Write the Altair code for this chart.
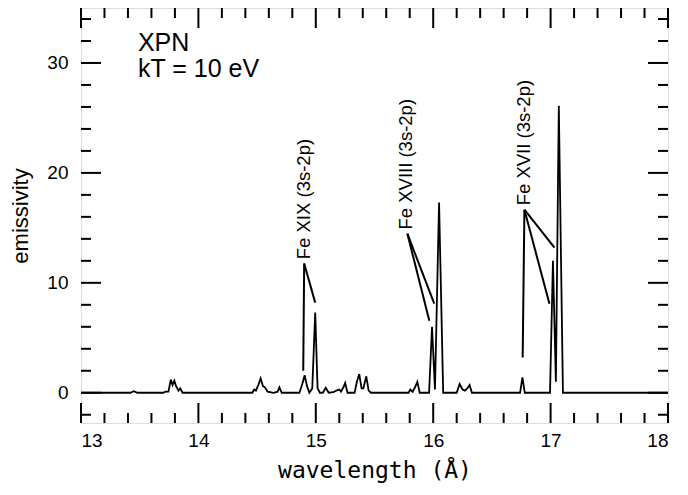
import altair as alt
import pandas as pd

# ---- spectrum ----
wavelength = [13.00, 13.42, 13.45, 13.48, 13.70, 13.72, 13.745, 13.765, 13.78, 13.795,
              13.81, 13.83, 13.845, 13.865, 14.46, 14.475, 14.49, 14.51, 14.53, 14.55,
              14.565, 14.59, 14.64, 14.675, 14.69, 14.71, 14.86, 14.885, 14.905, 14.925,
              14.945, 14.97, 14.995, 15.015, 15.035, 15.06, 15.085, 15.11, 15.15, 15.175,
              15.20, 15.215, 15.235, 15.25, 15.27, 15.33, 15.35, 15.37, 15.39, 15.405,
              15.43, 15.45, 15.47, 15.79, 15.805, 15.825, 15.845, 15.865, 15.885, 15.965,
              15.99, 16.015, 16.05, 16.085, 16.20, 16.225, 16.25, 16.27, 16.29, 16.31,
              16.33, 16.74, 16.76, 16.78, 16.995, 17.02, 17.045, 17.07, 17.105, 18.00]
emissivity = [0, 0, 0.15, 0, 0, 0.1, 0.1, 1.2, 0.7, 1.1,
              0.6, 0.2, 0.4, 0, 0, 0.3, 0.2, 0.7, 1.3, 0.6,
              0.5, 0.1, 0, 0.1, 0.5, 0, 0, 0.8, 1.6, 0.6,
              0, 0.4, 7.3, 0.4, 0, 0, 0.45, 0, 0.05, 0.2,
              0.3, 0.1, 0.5, 0.9, 0, 0, 1.0, 1.7, 0.4, 0.4,
              1.5, 0.2, 0, 0, 0.3, 0.1, 0.5, 1.0, 0, 0,
              6.0, 0.3, 17.3, 0, 0, 0.8, 0.3, 0.2, 0.4, 0.7,
              0, 0, 1.4, 0, 0, 12.0, 1.0, 26.1, 0, 0]

# ---- annotation leader lines ----
lead_x1 = [14.901, 14.901, 15.78, 15.78, 16.777, 16.777, 16.777]
lead_y1 = [11.75, 11.75, 14.47, 14.47, 16.65, 16.65, 16.65]
lead_x2 = [14.893, 14.995, 15.967, 16.009, 16.762, 16.99, 17.033]
lead_y2 = [2.0, 8.2, 6.56, 8.1, 3.2, 8.1, 13.2]

# ---- annotation labels ----
label_text = ["Fe XIX (3s-2p)", "Fe XVIII (3s-2p)", "Fe XVII (3s-2p)"]
label_x = [14.901, 15.765, 16.777]
label_y = [12.15, 14.85, 17.05]

note_text = ["XPN", "kT = 10 eV"]
note_x = [13.485, 13.485]
note_y = [31.1, 28.75]

# ---- axis ticks ----
x_major = [13, 14, 15, 16, 17, 18]
x_minor = [13.2, 13.4, 13.6, 13.8, 14.2, 14.4, 14.6, 14.8, 15.2, 15.4, 15.6, 15.8,
           16.2, 16.4, 16.6, 16.8, 17.2, 17.4, 17.6, 17.8]
y_major = [0, 10, 20, 30]
y_minor = [-2, 2, 4, 6, 8, 12, 14, 16, 18, 22, 24, 26, 28, 32, 34]

W, H = 587, 415
XDOM = [13, 18]
YDOM = [-2.75, 35]
XT = "wavelength (Å)"
YT = "emissivity"
FONT = "Liberation Sans"

xs = alt.Scale(domain=XDOM, nice=False, zero=False)
ys = alt.Scale(domain=YDOM, nice=False, zero=False)

spec = pd.DataFrame({"x": wavelength, "y": emissivity})
line = alt.Chart(spec).mark_line(color="black", strokeWidth=1.8).encode(
    x=alt.X("x:Q", scale=xs, title=XT,
            axis=alt.Axis(values=x_major, tickSize=0, ticks=False, domain=False, grid=False,
                          labelFontSize=19, labelFont=FONT, labelColor="black", labelPadding=8,
                          titleFont="DejaVu Sans Mono", titleFontSize=23, titleFontWeight="normal",
                          titleColor="black", titlePadding=9, format="d")),
    y=alt.Y("y:Q", scale=ys, title=YT,
            axis=alt.Axis(values=y_major, tickSize=0, ticks=False, domain=False, grid=False,
                          labelFontSize=19, labelFont=FONT, labelColor="black", labelPadding=13,
                          titleFont=FONT, titleFontSize=22, titleFontWeight="normal",
                          titleColor="black", titlePadding=14, format="d")),
)

leads = pd.DataFrame({"x": lead_x1, "y": lead_y1, "x2": lead_x2, "y2": lead_y2})
lead_layer = alt.Chart(leads).mark_rule(color="black", strokeWidth=2).encode(
    x=alt.X("x:Q", scale=xs, title=XT), y=alt.Y("y:Q", scale=ys, title=YT),
    x2="x2:Q", y2="y2:Q")

labels = pd.DataFrame({"x": label_x, "y": label_y, "t": label_text})
label_layer = alt.Chart(labels).mark_text(angle=270, align="left", baseline="middle",
                                          fontSize=18.5, font=FONT, color="black").encode(
    x=alt.X("x:Q", scale=xs, title=XT), y=alt.Y("y:Q", scale=ys, title=YT), text="t:N")

notes = pd.DataFrame({"x": note_x, "y": note_y, "t": note_text})
note_layer = alt.Chart(notes).mark_text(align="left", baseline="alphabetic",
                                        fontSize=25, font=FONT, color="black").encode(
    x=alt.X("x:Q", scale=xs, title=XT), y=alt.Y("y:Q", scale=ys, title=YT), text="t:N")


def xticks(vals, y0, y1):
    return alt.Chart(pd.DataFrame({"v": vals})).mark_rule(color="black", strokeWidth=2).encode(
        x=alt.X("v:Q", scale=xs, title=XT), y=alt.value(y0), y2=alt.value(y1))


def yticks(vals, x0, x1):
    return alt.Chart(pd.DataFrame({"v": vals})).mark_rule(color="black", strokeWidth=2).encode(
        y=alt.Y("v:Q", scale=ys, title=YT), x=alt.value(x0), x2=alt.value(x1))


tick_layers = [
    xticks(x_major, H, H - 20), xticks(x_minor, H, H - 10),
    xticks(x_major, 0, 20), xticks(x_minor, 0, 10),
    yticks(y_major, 0, 20), yticks(y_minor, 0, 10),
    yticks(y_major, W, W - 20), yticks(y_minor, W, W - 10),
]

chart = alt.layer(line, lead_layer, label_layer, note_layer, *tick_layers).properties(
    width=W, height=H,
    autosize=alt.AutoSizeParams(type="none"),
    padding={"left": 73, "top": 0, "right": 12, "bottom": 64},
).configure_view(stroke="black", strokeWidth=2).configure(background="white")

chart.save("out.html", embed_options={"renderer": "svg", "actions": False})
